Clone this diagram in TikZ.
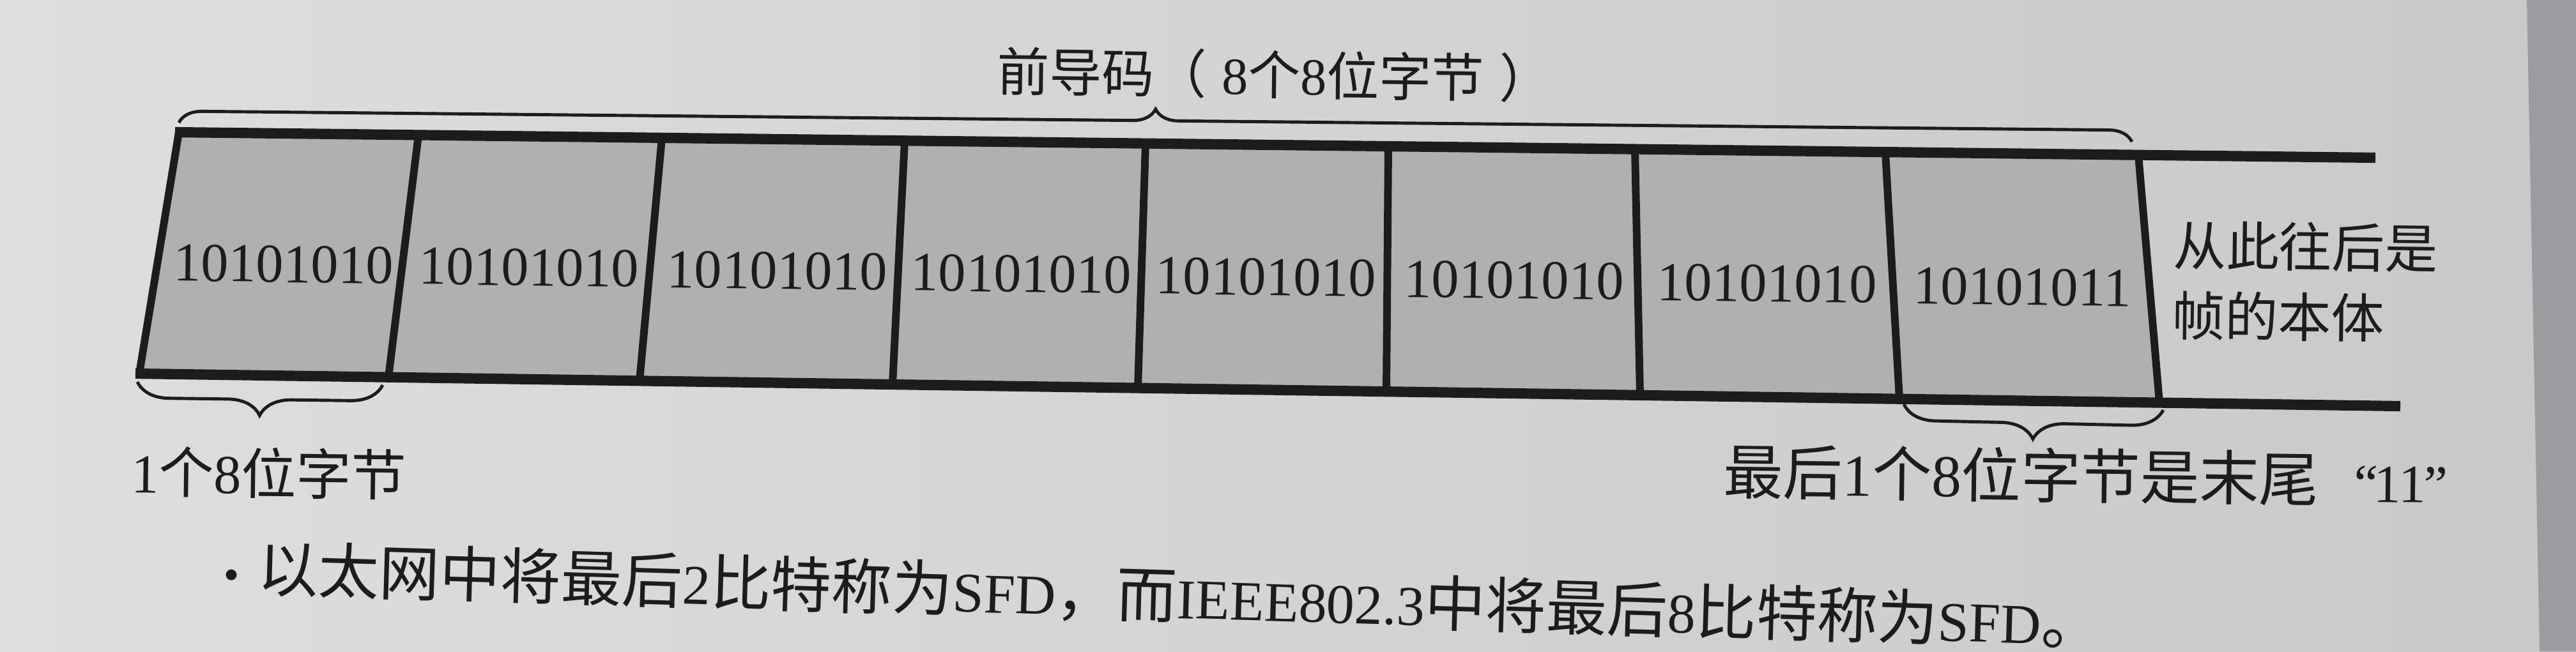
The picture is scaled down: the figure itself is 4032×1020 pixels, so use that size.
\documentclass[tikz,border=0pt]{standalone}
\usepackage{fontspec}
\setmainfont{Liberation Serif}
\newfontfamily\cjk{Noto Sans CJK SC}
\usetikzlibrary{decorations.pathreplacing,calc}
\definecolor{paperL}{HTML}{DEDEDC}
\definecolor{paperR}{HTML}{C9C9C9}
\definecolor{cellgray}{HTML}{B0B0B0}
\definecolor{ink}{HTML}{1C1C1C}
\definecolor{pageedge}{HTML}{9C9CA0}
\newcommand{\zh}[1]{{\cjk #1}}
\newcommand{\la}[1]{{\fontsize{25pt}{30pt}\selectfont #1}}
\begin{document}
\begin{tikzpicture}[x=0.01cm,y=-0.01cm,
  rail/.style={draw=ink,line width=4.6pt,line cap=butt},
  divider/.style={draw=ink,line width=3.4pt},
  cellbox/.style={fill=cellgray},
  bracepath/.style={draw=ink,line width=1.4pt,decorate,decoration={brace,amplitude=#1}},
  lbl/.style={text=ink,inner sep=0pt,rotate=-0.7},
  bits/.style={lbl,font={\fontsize{24.5pt}{30pt}\selectfont}},
]
\useasboundingbox (0,0) rectangle (4032,1020);
\shade[left color=paperL,right color=paperR] (0,0) rectangle (4032,1020);
\fill[pageedge] (3955,0) -- (4032,0) -- (4032,1020) -- (3975,1020) -- cycle;

% cell corners (top and bottom of each divider)
\coordinate (t0) at (280,207);
\coordinate (t1) at (655,211.4);
\coordinate (t2) at (1036,215.8);
\coordinate (t3) at (1416,220.2);
\coordinate (t4) at (1793,224.6);
\coordinate (t5) at (2173,229.0);
\coordinate (t6) at (2559,233.5);
\coordinate (t7) at (2951,238.1);
\coordinate (t8) at (3347,242.7);
\coordinate (tend) at (3718,247);
\coordinate (b0) at (218,585);
\coordinate (b1) at (608,590.6);
\coordinate (b2) at (1001,596.3);
\coordinate (b3) at (1397,602);
\coordinate (b4) at (1781,607.5);
\coordinate (b5) at (2170,613.1);
\coordinate (b6) at (2567,618.8);
\coordinate (b7) at (2973,624.7);
\coordinate (b8) at (3380,630.6);
\coordinate (bend) at (3757,636);

\fill[cellbox] (t0) -- (t8) -- (b8) -- (b0) -- cycle;
\foreach \i in {0,...,8} \draw[divider] (t\i) -- (b\i);
\draw[rail] ($(t0)+(-6,0)$) -- (tend);
\draw[rail] ($(b0)+(-6,0)$) -- (bend);

% byte contents
\node[bits] (c1) at ($(t0)!0.5!(b1)+(0,15)$) {10101010};
\node[bits] (c2) at ($(t1)!0.5!(b2)+(0,15)$) {10101010};
\node[bits] (c3) at ($(t2)!0.5!(b3)+(0,15)$) {10101010};
\node[bits] (c4) at ($(t3)!0.5!(b4)+(0,15)$) {10101010};
\node[bits] (c5) at ($(t4)!0.5!(b5)+(0,15)$) {10101010};
\node[bits] (c6) at ($(t5)!0.5!(b6)+(0,15)$) {10101010};
\node[bits] (c7) at ($(t6)!0.5!(b7)+(0,15)$) {10101010};
\node[bits] (c8) at ($(t7)!0.5!(b8)+(0,15)$) {10101011};

% braces
\coordinate (tbA) at (280,192);
\coordinate (tbB) at (3337,222);
\draw[bracepath=0.36cm] (tbA) -- (tbB);
\coordinate (fbA) at (215,598);
\coordinate (fbB) at (599,603);
\draw[bracepath=0.5cm] (fbB) -- (fbA);
\coordinate (lbA) at (2980,633);
\coordinate (lbB) at (3386,642);
\draw[bracepath=0.5cm] (lbB) -- (lbA);

% labels
\node[lbl,font={\fontsize{23.3pt}{28pt}\selectfont}] (title) at (1995,117)
  {\zh{前导码（}\hspace{0.3em}8\zh{个}8\zh{位字节}\hspace{0.3em}\zh{）}};
\node[lbl,anchor=west,align=left,font={\fontsize{23.6pt}{31.3pt}\selectfont}] (body) at (3400,439)
  {\zh{从此往后是}\\\zh{帧的本体}};
\node[lbl,anchor=west,font={\fontsize{24.5pt}{30pt}\selectfont}] (one) at (205,738)
  {1\zh{个}8\zh{位字节}};
\node[lbl,anchor=east,font={\fontsize{26.5pt}{32pt}\selectfont}] (last) at (3832,752)
  {\zh{最后}1\zh{个}8\zh{位字节是末尾}\hspace{0.6em}{\fontsize{24pt}{30pt}\selectfont “\kern-0.08em 11\kern-0.04em”}};
\node[lbl,anchor=west,rotate=-1.0,font={\fontsize{27pt}{33pt}\selectfont}] (note) at (350,889)
  {{\fontsize{20pt}{20pt}\selectfont •}\hspace{0.3em}\zh{以太网中将最后}\la{2}\zh{比特称为}\la{SFD}\zh{，而}\la{IEEE802.3}\zh{中将最后}\la{8}\zh{比特称为}\la{SFD}\zh{。}};
\end{tikzpicture}
\end{document}
